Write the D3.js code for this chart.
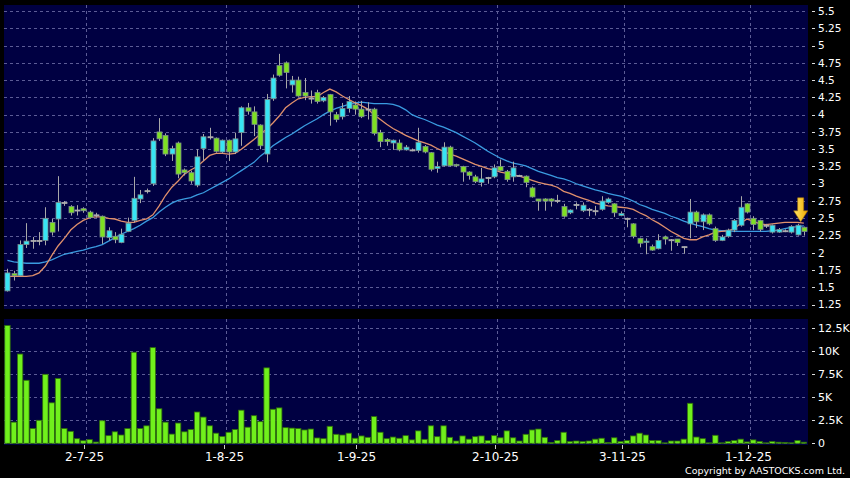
<!DOCTYPE html>
<html>
<head>
<meta charset="utf-8">
<script src="https://cdn.jsdelivr.net/npm/d3@7/dist/d3.min.js"></script>
<style>
  body { margin: 0; background: #000; }
  text { font-family: "DejaVu Sans", sans-serif; fill: #fff; }
</style>
</head>
<body>
<div id="chart"></div>
<script>
// trading days shown (d-m-yy)
var dates = [
  "12-6-25","13-6-25","16-6-25","17-6-25","18-6-25","19-6-25","20-6-25","23-6-25","24-6-25","25-6-25","26-6-25","27-6-25","30-6-25",
  "2-7-25","3-7-25","4-7-25","7-7-25","8-7-25","9-7-25","10-7-25","11-7-25","14-7-25","15-7-25","16-7-25","17-7-25","18-7-25",
  "21-7-25","22-7-25","23-7-25","24-7-25","25-7-25","28-7-25","29-7-25","30-7-25","31-7-25",
  "1-8-25","4-8-25","5-8-25","6-8-25","7-8-25","8-8-25","11-8-25","12-8-25","13-8-25","14-8-25","15-8-25",
  "18-8-25","19-8-25","20-8-25","21-8-25","22-8-25","25-8-25","26-8-25","27-8-25","28-8-25","29-8-25",
  "1-9-25","2-9-25","3-9-25","4-9-25","5-9-25","8-9-25","9-9-25","10-9-25","11-9-25","12-9-25","15-9-25","16-9-25",
  "17-9-25","18-9-25","19-9-25","22-9-25","23-9-25","24-9-25","25-9-25","26-9-25","29-9-25","30-9-25",
  "2-10-25","3-10-25","6-10-25","8-10-25","9-10-25","10-10-25","13-10-25","14-10-25","15-10-25","16-10-25","17-10-25",
  "20-10-25","21-10-25","22-10-25","23-10-25","24-10-25","27-10-25","28-10-25","30-10-25","31-10-25",
  "3-11-25","4-11-25","5-11-25","6-11-25","7-11-25","10-11-25","11-11-25","12-11-25","13-11-25","14-11-25",
  "17-11-25","18-11-25","19-11-25","20-11-25","21-11-25","24-11-25","25-11-25","26-11-25","27-11-25","28-11-25",
  "1-12-25","2-12-25","3-12-25","4-12-25","5-12-25","8-12-25","9-12-25","10-12-25","11-12-25"
];

var open = [1.45,1.70,1.67,2.12,2.18,2.18,2.18,2.44,2.49,2.73,2.67,2.62,2.64,2.59,2.55,2.53,2.22,2.24,2.15,2.31,
  2.47,2.78,2.90,3.00,3.75,3.70,3.43,3.59,3.20,3.16,2.98,3.51,3.68,3.66,3.46,3.63,3.46,3.74,4.10,4.04,
  3.85,3.43,4.23,4.71,4.75,4.43,4.50,4.32,4.24,4.32,4.20,4.29,4.00,3.97,4.09,4.14,4.08,4.08,4.08,3.74,
  3.64,3.59,3.59,3.49,3.49,3.48,3.54,3.45,3.22,3.26,3.53,3.28,3.25,3.17,3.10,3.02,3.09,3.10,3.25,3.18,
  3.10,3.12,3.11,2.94,2.78,2.78,2.78,2.76,2.67,2.58,2.70,2.61,2.63,2.61,2.63,2.73,2.71,2.54,2.50,2.42,
  2.21,2.15,2.09,2.06,2.23,2.19,2.20,2.09,2.42,2.59,2.45,2.55,2.35,2.18,2.24,2.33,2.40,2.71,2.50,2.47,
  2.40,2.30,2.30,2.32,2.30,2.26,2.37];
var high = [1.77,1.74,2.18,2.43,2.23,2.30,2.66,2.49,3.11,2.75,2.69,2.69,2.66,2.61,2.58,2.54,2.37,2.30,2.35,2.51,
  3.10,2.91,2.93,3.66,3.95,3.73,3.55,3.61,3.22,3.19,3.50,3.72,3.81,3.67,3.64,3.64,3.74,4.12,4.17,4.12,
  3.86,4.30,4.58,4.88,4.77,4.56,4.55,4.53,4.35,4.36,4.27,4.30,4.04,4.17,4.27,4.19,4.20,4.18,4.10,3.78,
  3.66,3.64,3.64,3.56,3.51,3.81,3.56,3.46,3.32,3.60,3.55,3.29,3.26,3.18,3.13,3.23,3.10,3.28,3.35,3.20,
  3.32,3.13,3.12,2.96,2.78,2.79,2.79,2.84,2.71,2.63,2.73,2.73,2.65,2.68,2.82,2.80,2.72,2.60,2.51,2.43,
  2.22,2.21,2.12,2.27,2.25,2.20,2.20,2.09,2.78,2.61,2.57,2.57,2.38,2.26,2.35,2.49,2.82,2.72,2.53,2.48,
  2.42,2.41,2.36,2.34,2.40,2.42,2.38];
var low = [1.44,1.60,1.66,2.07,2.06,2.11,2.11,2.25,2.31,2.68,2.54,2.54,2.58,2.50,2.51,2.13,2.18,2.14,2.14,2.30,
  2.44,2.72,2.86,2.97,3.62,3.40,3.33,3.08,3.12,3.00,2.95,3.33,3.64,3.45,3.44,3.33,3.43,3.55,4.00,3.69,
  3.50,3.31,4.20,4.55,4.38,4.32,4.26,4.21,4.16,4.16,4.18,3.84,3.89,3.93,4.03,4.00,3.95,3.93,3.70,3.53,
  3.55,3.49,3.47,3.48,3.47,3.45,3.44,3.18,3.16,3.25,3.25,3.24,3.03,3.06,3.01,2.96,3.00,3.08,3.18,3.03,
  3.03,3.10,2.95,2.80,2.61,2.61,2.67,2.72,2.51,2.56,2.63,2.59,2.53,2.54,2.61,2.71,2.52,2.53,2.37,2.21,
  2.08,1.98,2.03,2.05,2.12,2.03,2.10,1.99,2.21,2.36,2.33,2.40,2.16,2.17,2.22,2.30,2.38,2.57,2.33,2.31,
  2.36,2.28,2.29,2.30,2.28,2.25,2.25];
var close = [1.71,1.67,2.12,2.17,2.18,2.18,2.50,2.30,2.73,2.73,2.58,2.62,2.61,2.51,2.55,2.23,2.32,2.19,2.27,2.43,
  2.79,2.84,2.90,3.62,3.65,3.43,3.51,3.14,3.16,3.04,3.39,3.68,3.68,3.47,3.63,3.46,3.65,4.10,4.05,3.86,
  3.55,4.22,4.53,4.57,4.61,4.50,4.27,4.27,4.24,4.19,4.25,4.04,3.93,4.09,4.19,4.08,3.97,4.08,3.73,3.61,
  3.61,3.63,3.49,3.53,3.49,3.60,3.46,3.21,3.25,3.53,3.26,3.26,3.17,3.12,3.03,3.07,3.09,3.23,3.19,3.06,
  3.23,3.12,3.02,2.81,2.75,2.75,2.75,2.76,2.53,2.62,2.70,2.69,2.63,2.61,2.75,2.78,2.58,2.57,2.50,2.24,
  2.14,2.17,2.04,2.18,2.20,2.19,2.15,2.09,2.59,2.45,2.55,2.42,2.18,2.23,2.33,2.47,2.66,2.59,2.41,2.34,
  2.40,2.40,2.34,2.32,2.38,2.40,2.31];

// volume in thousands
var volume = [12.8,2.3,9.7,6.85,1.6,2.5,7.5,4.4,7.05,1.6,1.3,0.5,0.28,0.4,0.14,2.45,0.83,1.25,0.9,1.6,
  9.9,1.6,1.9,10.4,3.75,2.3,1.0,2.2,1.25,1.5,3.4,2.85,1.9,1.1,0.75,1.2,1.5,3.6,1.75,3.0,
  2.35,8.2,3.7,3.85,1.7,1.65,1.6,1.45,1.55,0.58,0.5,1.85,0.98,0.9,1.1,0.55,0.8,0.65,2.9,1.2,
  0.5,0.68,0.55,0.83,0.37,1.35,0.43,1.9,0.72,1.9,0.65,0.25,0.8,0.45,0.72,0.8,0.3,0.83,0.6,1.35,
  0.6,0.25,0.98,1.45,1.55,0.65,0.1,0.3,1.2,0.2,0.25,0.2,0.25,0.45,0.55,0.1,0.6,0.2,0.3,0.8,
  1.1,0.9,0.3,0.3,0.05,0.25,0.25,0.45,4.35,0.68,0.5,0.05,0.87,0.05,0.2,0.3,0.45,0.15,0.37,0.2,
  0.05,0.2,0.12,0.1,0.05,0.3,0.12];

// moving averages as drawn (short = orange, long = blue)
var maShort = [1.66,1.66,1.66,1.66,1.67,1.71,1.81,1.96,2.10,2.21,2.33,2.41,2.47,2.51,2.52,2.52,2.50,2.49,2.46,2.44,
  2.44,2.47,2.49,2.55,2.68,2.83,2.95,3.04,3.14,3.20,3.25,3.33,3.41,3.44,3.44,3.43,3.44,3.50,3.57,3.64,
  3.72,3.79,3.88,3.98,4.10,4.17,4.23,4.25,4.26,4.26,4.32,4.37,4.33,4.27,4.22,4.17,4.13,4.08,4.00,3.93,
  3.86,3.80,3.75,3.70,3.66,3.62,3.59,3.56,3.51,3.47,3.43,3.40,3.36,3.32,3.28,3.25,3.22,3.20,3.17,3.15,
  3.13,3.11,3.08,3.05,3.02,3.00,2.98,2.95,2.89,2.86,2.82,2.79,2.76,2.72,2.70,2.68,2.67,2.66,2.65,2.63,
  2.58,2.54,2.48,2.43,2.37,2.31,2.26,2.21,2.19,2.19,2.23,2.26,2.30,2.31,2.32,2.35,2.43,2.49,2.46,2.42,
  2.41,2.42,2.43,2.44,2.44,2.44,2.43];
var maLong = [1.89,1.87,1.86,1.85,1.85,1.85,1.87,1.90,1.94,1.98,2.00,2.02,2.04,2.07,2.09,2.12,2.17,2.22,2.27,2.31,
  2.35,2.40,2.46,2.51,2.59,2.66,2.72,2.76,2.78,2.80,2.84,2.87,2.92,2.97,3.02,3.07,3.13,3.19,3.25,3.31,
  3.40,3.47,3.55,3.61,3.67,3.72,3.78,3.84,3.89,3.94,4.00,4.05,4.09,4.12,4.15,4.17,4.18,4.17,4.16,4.16,
  4.16,4.15,4.12,4.07,4.00,3.96,3.93,3.89,3.85,3.82,3.78,3.74,3.69,3.64,3.59,3.53,3.47,3.42,3.37,3.33,
  3.30,3.28,3.26,3.22,3.18,3.15,3.12,3.09,3.07,3.04,3.00,2.97,2.94,2.91,2.89,2.86,2.84,2.82,2.79,2.75,
  2.70,2.67,2.63,2.60,2.57,2.53,2.50,2.46,2.43,2.40,2.38,2.35,2.33,2.32,2.32,2.31,2.31,2.31,2.31,2.31,
  2.31,2.32,2.33,2.35,2.37,2.38,2.39];

var monthTicks = ["2-7-25","1-8-25","1-9-25","2-10-25","3-11-25","1-12-25"];
var priceTicks = [1.25,1.5,1.75,2,2.25,2.5,2.75,3,3.25,3.5,3.75,4,4.25,4.5,4.75,5,5.25,5.5];
var volTicks = [0,2.5,5,7.5,10,12.5];
var markDate = "11-12-25";

var width = 850, height = 478;
var plotLeft = 4, plotRight = 808;
var priceTop = 5, priceBottom = 309;
var volTop = 319, volBottom = 445;

var svg = d3.select("#chart")
    .append("svg")
    .attr("width", width)
    .attr("height", height)
    .style("display", "block")
    .style("background", "#000");

var x = d3.scaleBand()
    .domain(dates)
    .range([4.3, 807])
    .padding(0);

var y = d3.scaleLinear()
    .domain([1.25, 5.5])
    .range([304.7, 11]);

var yv = d3.scaleLinear()
    .domain([0, 12.5])
    .range([443.3, 328.3]);

var step = x.step();
function cx(i) { return x(dates[i]) + step / 2; }

// panels
svg.append("rect")
    .attr("x", plotLeft).attr("y", priceTop)
    .attr("width", plotRight - plotLeft).attr("height", priceBottom - priceTop)
    .attr("fill", "#000042");
svg.append("rect")
    .attr("x", plotLeft).attr("y", volTop)
    .attr("width", plotRight - plotLeft).attr("height", volBottom - volTop)
    .attr("fill", "#000042");

var gridColor = "#5c5c96";

// horizontal grid
svg.selectAll(".pgrid")
    .data(priceTicks)
    .enter().append("line")
    .attr("x1", plotLeft).attr("x2", plotRight)
    .attr("y1", function(d) { return Math.round(y(d)) + 0.5; })
    .attr("y2", function(d) { return Math.round(y(d)) + 0.5; })
    .attr("stroke", gridColor)
    .attr("stroke-dasharray", "3,3");

svg.selectAll(".vgrid")
    .data(volTicks)
    .enter().append("line")
    .attr("x1", plotLeft).attr("x2", plotRight)
    .attr("y1", function(d) { return Math.round(yv(d)) + 0.5; })
    .attr("y2", function(d) { return Math.round(yv(d)) + 0.5; })
    .attr("stroke", gridColor)
    .attr("stroke-dasharray", "3,3");

// month lines in both panels
monthTicks.forEach(function(m) {
    var mx = Math.round(x(m)) + 0.5;
    svg.append("line")
        .attr("x1", mx).attr("x2", mx)
        .attr("y1", priceTop).attr("y2", priceBottom)
        .attr("stroke", gridColor).attr("stroke-dasharray", "3,3");
    svg.append("line")
        .attr("x1", mx).attr("x2", mx)
        .attr("y1", volTop).attr("y2", volBottom)
        .attr("stroke", gridColor).attr("stroke-dasharray", "3,3");
    svg.append("line")
        .attr("x1", mx - 2).attr("x2", mx - 2)
        .attr("y1", volBottom).attr("y2", volBottom + 4)
        .attr("stroke", "#ccc");
    svg.append("text")
        .attr("x", mx - 2)
        .attr("y", 461)
        .attr("text-anchor", "middle")
        .attr("font-size", "12px")
        .text(m);
});

// moving averages
var maLine = function(arr) {
    return d3.line()
        .x(function(d, i) { return cx(i); })
        .y(function(d) { return y(d); })(arr);
};
svg.append("path")
    .attr("d", maLine(maLong))
    .attr("fill", "none")
    .attr("stroke", "#3a9be0")
    .attr("stroke-width", 1.3);
svg.append("path")
    .attr("d", maLine(maShort))
    .attr("fill", "none")
    .attr("stroke", "#e0906c")
    .attr("stroke-width", 1.3);

// candles
var candles = dates.map(function(d, i) {
    return {date: d, o: open[i], h: high[i], l: low[i], c: close[i], v: volume[i]};
});
var bodyW = 5;

function candleColor(d) {
    if (d.c > d.o) return "#38e4f4";
    if (d.c < d.o) return "#7ee022";
    return "#b0b0b0";
}

var cg = svg.selectAll(".candle")
    .data(candles)
    .enter().append("g")
    .attr("class", "candle");

cg.append("line")
    .attr("x1", function(d, i) { return Math.round(cx(i)) + 0.5; })
    .attr("x2", function(d, i) { return Math.round(cx(i)) + 0.5; })
    .attr("y1", function(d) { return y(d.h); })
    .attr("y2", function(d) { return y(d.l); })
    .attr("stroke", "#a8a8a8");

cg.append("rect")
    .attr("x", function(d, i) { return Math.round(cx(i)) + 0.5 - bodyW / 2; })
    .attr("y", function(d) { return y(Math.max(d.o, d.c)); })
    .attr("width", bodyW)
    .attr("height", function(d) { return Math.max(1, Math.abs(y(d.o) - y(d.c))); })
    .attr("fill", candleColor)
    .attr("stroke", function(d) { return d.c === d.o ? "#b0b0b0" : "#7a8c8c"; })
    .attr("stroke-width", 0.8);

// volume bars
svg.selectAll(".vbar")
    .data(candles)
    .enter().append("rect")
    .attr("class", "vbar")
    .attr("x", function(d, i) { return cx(i) - 2.7; })
    .attr("y", function(d) { return yv(d.v); })
    .attr("width", 5.4)
    .attr("height", function(d) { return yv(0) - yv(d.v); })
    .attr("fill", "#70f01c")
    .attr("stroke", "#2f6e0a")
    .attr("stroke-width", 0.8);

// right axes
svg.selectAll(".plabel")
    .data(priceTicks)
    .enter().append("text")
    .attr("x", 818)
    .attr("y", function(d) { return y(d); })
    .attr("dy", "0.35em")
    .attr("font-size", "10.5px")
    .text(function(d) { return d; });
svg.selectAll(".ptick")
    .data(priceTicks)
    .enter().append("line")
    .attr("x1", 812).attr("x2", 815)
    .attr("y1", function(d) { return Math.round(y(d)) + 0.5; })
    .attr("y2", function(d) { return Math.round(y(d)) + 0.5; })
    .attr("stroke", "#ddd");

svg.selectAll(".vlabel")
    .data(volTicks)
    .enter().append("text")
    .attr("x", 818)
    .attr("y", function(d) { return yv(d); })
    .attr("dy", "0.35em")
    .attr("font-size", "11px")
    .text(function(d) { return d === 0 ? "0" : d + "K"; });
svg.selectAll(".vtick")
    .data(volTicks)
    .enter().append("line")
    .attr("x1", 812).attr("x2", 815)
    .attr("y1", function(d) { return Math.round(yv(d)) + 0.5; })
    .attr("y2", function(d) { return Math.round(yv(d)) + 0.5; })
    .attr("stroke", "#ddd");

// marker arrow over the latest bars
var grad = svg.append("defs").append("linearGradient")
    .attr("id", "arrowGrad")
    .attr("x1", 0).attr("y1", 0).attr("x2", 1).attr("y2", 0);
grad.append("stop").attr("offset", "0%").attr("stop-color", "#ffe86a");
grad.append("stop").attr("offset", "100%").attr("stop-color", "#f0a800");

var ax = x(markDate);
var ay = y(high[dates.indexOf(markDate) - 1]) - 2;
svg.append("path")
    .attr("d", "M" + ax + "," + ay +
        " l-7,-11 l4,0 l0,-13 l6,0 l0,13 l4,0 Z")
    .attr("fill", "url(#arrowGrad)")
    .attr("stroke", "#b07800")
    .attr("stroke-width", 0.6);

svg.append("text")
    .attr("x", 845)
    .attr("y", 474)
    .attr("text-anchor", "end")
    .attr("font-size", "9.5px")
    .text("Copyright by AASTOCKS.com Ltd.");
</script>
</body>
</html>
